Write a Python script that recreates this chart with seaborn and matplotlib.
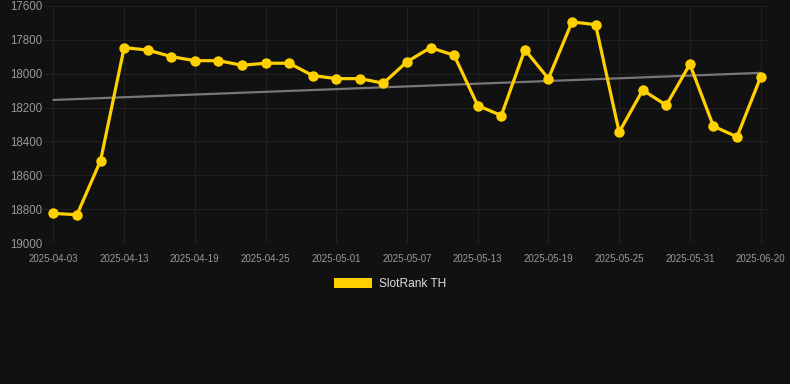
import matplotlib
matplotlib.use("Agg")
import matplotlib.pyplot as plt
import seaborn as sns
import pandas as pd
import numpy as np
from matplotlib.patches import Patch

dates = ["2025-04-03", "2025-04-06", "2025-04-10", "2025-04-13", "2025-04-15", "2025-04-17",
         "2025-04-19", "2025-04-21", "2025-04-23", "2025-04-25", "2025-04-27", "2025-04-29",
         "2025-05-01", "2025-05-03", "2025-05-05", "2025-05-07", "2025-05-09", "2025-05-11",
         "2025-05-13", "2025-05-15", "2025-05-17", "2025-05-19", "2025-05-21", "2025-05-23",
         "2025-05-25", "2025-05-27", "2025-05-29", "2025-05-31", "2025-06-06", "2025-06-13",
         "2025-06-20"]
rank = [18825, 18833, 18513, 17846, 17860, 17899, 17923, 17923, 17950, 17938, 17938, 18011,
        18029, 18029, 18056, 17929, 17846, 17891, 18188, 18247, 17858, 18029, 17694, 17710,
        18345, 18097, 18186, 17944, 18310, 18373, 18021]
trend_ends = [18155, 17995]
series_name = "SlotRank TH"
y_ticks = [17600, 17800, 18000, 18200, 18400, 18600, 18800, 19000]

bg = "#111111"
gold = "#FFD000"

sns.set_theme(style="dark")
plt.rcParams["font.family"] = ["Liberation Sans", "DejaVu Sans"]

fig = plt.figure(figsize=(7.9, 3.84), dpi=100, facecolor=bg)
ax = fig.add_axes([44 / 790, 1 - 243 / 384, (770 - 44) / 790, (243 - 6) / 384])
ax.set_facecolor(bg)

df = pd.DataFrame({"idx": np.arange(len(dates)), "rank": rank})
sns.lineplot(data=df, x="idx", y="rank", ax=ax, color=gold, linewidth=2.3,
             marker="o", markersize=7.5, markeredgewidth=0, zorder=3)

tdf = pd.DataFrame({"idx": [0, len(dates) - 1], "rank": trend_ends})
sns.lineplot(data=tdf, x="idx", y="rank", ax=ax, color="#777777", linewidth=1.6, zorder=2)

ax.set_xlim(-0.4, len(dates) - 1 + 0.4)
ax.set_ylim(19000, 17600)
ax.set_yticks(y_ticks)
ax.set_yticklabels([str(v) for v in y_ticks])
tick_idx = list(range(0, len(dates), 3))
ax.set_xticks(tick_idx)
ax.set_xticklabels([dates[i] for i in tick_idx])
ax.tick_params(axis="y", colors="#999999", labelsize=8.3, length=0, pad=1)
ax.tick_params(axis="x", colors="#999999", labelsize=7.0, length=0, pad=8)
ax.grid(True, color="#202020", linewidth=0.8)
ax.set_axisbelow(True)
for s in ax.spines.values():
    s.set_visible(False)
ax.axhline(19000, color="#303030", linewidth=0.8, zorder=1)
ax.set_xlabel("")
ax.set_ylabel("")

fig.legend(handles=[Patch(facecolor=gold, edgecolor="none", label=series_name)],
           loc="center", bbox_to_anchor=(390 / 790, 1 - 284 / 384), frameon=False,
           fontsize=8.6, labelcolor="#dddddd", handlelength=3.25, handleheight=1.0,
           handletextpad=0.58)

fig.savefig("out.png", dpi=100, facecolor=bg)
